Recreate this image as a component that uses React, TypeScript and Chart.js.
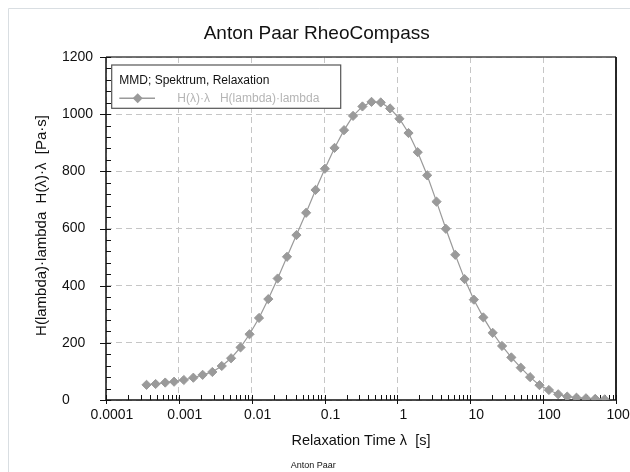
import React, { useEffect, useRef } from 'react';
import { Chart, registerables } from 'chart.js';

Chart.register(...registerables);

// Relaxation time λ [s]
const RELAXATION_TIMES = [
  3.6e-4, 4.8e-4, 6.5e-4, 8.6e-4, 1.17e-3, 1.58e-3, 2.12e-3, 2.88e-3, 3.88e-3, 5.21e-3,
  7.02e-3, 9.33e-3, 0.0126, 0.0169, 0.0227, 0.0305, 0.0411, 0.0558, 0.0752, 0.101,
  0.137, 0.185, 0.246, 0.331, 0.441, 0.59, 0.793, 1.066, 1.42, 1.9,
  2.56, 3.44, 4.62, 6.22, 8.36, 11.2, 15.1, 20.3, 27.3, 36.6,
  49.3, 66.2, 89.1, 120, 161, 214, 287, 387, 519, 698,
];
// H(λ)·λ [Pa·s]
const H_LAMBDA = [
  53, 56, 61, 64, 70, 78, 88, 98, 119, 146,
  184, 230, 287, 353, 425, 501, 577, 655, 735, 809,
  882, 944, 994, 1027, 1043, 1041, 1020, 984, 934, 867,
  786, 694, 599, 508, 423, 351, 289, 235, 189, 149,
  113, 80, 52, 35, 20, 12, 8, 6, 4, 2,
];

const X_TICKS = [0.0001, 0.001, 0.01, 0.1, 1, 10, 100, 1000];
const X_TICK_LABELS = ['0.0001', '0.001', '0.01', '0.1', '1', '10', '100', '1000'];
const X_MINOR_MULTS = [2, 3, 4, 5, 6, 7, 8, 9];
const Y_TICKS = [0, 200, 400, 600, 800, 1000, 1200];
const Y_TICK_LABELS = ['0', '200', '400', '600', '800', '1000', '1200'];
const Y_MINOR_STEP = 40;

const TITLE = 'Anton Paar RheoCompass';
const X_TITLE = 'Relaxation Time λ  [s]';
const Y_TITLE = 'H(lambda)·lambda  H(λ)·λ  [Pa·s]';
const LEGEND_TITLE = 'MMD; Spektrum, Relaxation';
const SERIES_LABEL = 'H(λ)·λ   H(lambda)·lambda';
const FOOTER = 'Anton Paar';

const FONT = "'Liberation Sans', Arial, sans-serif";
const SERIES_COLOR = '#9a9a9a';

const W = 622;
const H = 464;

const decor = {
  id: 'decor',
  beforeDraw(chart: any) {
    const ctx = chart.ctx;
    ctx.save();
    ctx.fillStyle = '#ffffff';
    ctx.fillRect(0, 0, chart.width, chart.height);
    ctx.strokeStyle = '#d9dee2';
    ctx.lineWidth = 1;
    ctx.beginPath();
    ctx.moveTo(0.5, chart.height);
    ctx.lineTo(0.5, 0.5);
    ctx.lineTo(chart.width, 0.5);
    ctx.stroke();
    ctx.restore();
  },
  beforeDatasetsDraw(chart: any) {
    const ctx = chart.ctx;
    const { left, right, top, bottom } = chart.chartArea;
    const xs = chart.scales.x;
    const ys = chart.scales.y;
    ctx.save();
    // frame / axes
    ctx.lineWidth = 1.5;
    ctx.strokeStyle = '#444444';
    ctx.beginPath();
    ctx.moveTo(left, top);
    ctx.lineTo(right, top);
    ctx.stroke();
    ctx.strokeStyle = '#111111';
    ctx.lineWidth = 1.8;
    ctx.beginPath();
    ctx.moveTo(right, top);
    ctx.lineTo(right, bottom);
    ctx.stroke();
    ctx.lineWidth = 1.5;
    ctx.beginPath();
    ctx.moveTo(left, top);
    ctx.lineTo(left, bottom);
    ctx.lineTo(right, bottom);
    ctx.stroke();
    // ticks
    ctx.lineWidth = 1;
    ctx.strokeStyle = '#111111';
    ctx.beginPath();
    const xMax = X_TICKS[X_TICKS.length - 1];
    X_TICKS.forEach((d) => {
      const px = Math.round(xs.getPixelForValue(d)) + 0.5;
      ctx.moveTo(px, bottom - 5);
      ctx.lineTo(px, bottom + 4);
      if (d < xMax) {
        X_MINOR_MULTS.forEach((m) => {
          const p = Math.round(xs.getPixelForValue(d * m)) + 0.5;
          ctx.moveTo(p, bottom - 5);
          ctx.lineTo(p, bottom);
        });
      }
    });
    const yMax = Y_TICKS[Y_TICKS.length - 1];
    for (let v = 0; v <= yMax; v += Y_MINOR_STEP) {
      const py = Math.round(ys.getPixelForValue(v)) + 0.5;
      if (Y_TICKS.includes(v)) {
        ctx.moveTo(left - 6, py);
        ctx.lineTo(left + 5, py);
      } else {
        ctx.moveTo(left, py);
        ctx.lineTo(left + 5, py);
      }
    }
    ctx.stroke();
    ctx.restore();
  },
  afterDraw(chart: any) {
    const ctx = chart.ctx;
    const { left, right, top, bottom } = chart.chartArea;
    ctx.save();
    // title
    ctx.fillStyle = '#111111';
    ctx.textBaseline = 'alphabetic';
    ctx.textAlign = 'center';
    ctx.font = `19px ${FONT}`;
    ctx.fillText(TITLE, 308.7, 30.6);
    // x title
    ctx.font = `14.5px ${FONT}`;
    ctx.fillText(X_TITLE, (left + right) / 2, 437);
    // y title
    ctx.save();
    ctx.translate(38, (top + bottom) / 2 - 3);
    ctx.rotate(-Math.PI / 2);
    ctx.font = `15px ${FONT}`;
    ctx.fillText(Y_TITLE, 0, 0);
    ctx.restore();
    // footer
    ctx.textAlign = 'left';
    ctx.font = `9px ${FONT}`;
    ctx.fillText(FOOTER, 282.7, 459.7);
    // legend
    const lx = left + 5.7;
    const ly = top + 8;
    const lw = 229;
    const lh = 43.3;
    ctx.fillStyle = '#ffffff';
    ctx.fillRect(lx, ly, lw, lh);
    ctx.strokeStyle = '#555555';
    ctx.lineWidth = 1.2;
    ctx.strokeRect(lx, ly, lw, lh);
    ctx.fillStyle = '#111111';
    ctx.font = `12px ${FONT}`;
    ctx.fillText(LEGEND_TITLE, lx + 7.6, ly + 19.3);
    const rowY = ly + 33.3;
    ctx.strokeStyle = SERIES_COLOR;
    ctx.lineWidth = 1.5;
    ctx.beginPath();
    ctx.moveTo(lx + 7.6, rowY);
    ctx.lineTo(lx + 43.3, rowY);
    ctx.stroke();
    const cx = lx + 26;
    const r = 5;
    ctx.fillStyle = SERIES_COLOR;
    ctx.beginPath();
    ctx.moveTo(cx - r, rowY);
    ctx.lineTo(cx, rowY - r);
    ctx.lineTo(cx + r, rowY);
    ctx.lineTo(cx, rowY + r);
    ctx.closePath();
    ctx.fill();
    ctx.fillStyle = '#b5b5b5';
    ctx.font = `12px ${FONT}`;
    ctx.fillText(SERIES_LABEL, lx + 65.6, rowY + 4);
    ctx.restore();
  },
};

export default function App() {
  const ref = useRef<HTMLCanvasElement | null>(null);

  useEffect(() => {
    document.documentElement.style.overflow = 'hidden';
    document.body.style.overflow = 'hidden';
    const canvas = ref.current;
    if (!canvas) return;
    const points = RELAXATION_TIMES.map((x, i) => ({ x, y: H_LAMBDA[i] }));
    const chart = new Chart(canvas, {
      type: 'line',
      data: {
        datasets: [
          {
            label: SERIES_LABEL,
            data: points,
            borderColor: SERIES_COLOR,
            backgroundColor: SERIES_COLOR,
            borderWidth: 1.2,
            pointStyle: 'rectRot',
            pointRadius: 4.6,
            pointBorderWidth: 1,
            pointBackgroundColor: SERIES_COLOR,
            pointBorderColor: SERIES_COLOR,
            tension: 0,
            fill: false,
          },
        ],
      },
      options: {
        responsive: false,
        animation: false,
        devicePixelRatio: 1,
        layout: { padding: { left: 54, right: 14, top: 49, bottom: 0 } },
        plugins: {
          legend: { display: false },
          title: { display: false },
          tooltip: { enabled: false },
        },
        scales: {
          x: {
            type: 'logarithmic',
            min: X_TICKS[0],
            max: X_TICKS[X_TICKS.length - 1],
            afterBuildTicks: (scale: any) => {
              scale.ticks = X_TICKS.map((v) => ({ value: v, major: true }));
            },
            afterFit: (scale: any) => {
              scale.height = 72;
              scale.paddingLeft = 0;
              scale.paddingRight = 0;
            },
            grid: {
              display: true,
              drawTicks: false,
              color: '#c6c6c6',
              lineWidth: 1,
            },
            border: { display: false, dash: [6, 4] },
            ticks: {
              autoSkip: false,
              maxRotation: 0,
              minRotation: 0,
              padding: 7,
              labelOffset: 6,
              color: '#111111',
              font: { family: FONT, size: 14 },
              callback: (_v: any, i: number) => X_TICK_LABELS[i],
            },
          },
          y: {
            type: 'linear',
            min: Y_TICKS[0],
            max: Y_TICKS[Y_TICKS.length - 1],
            afterBuildTicks: (scale: any) => {
              scale.ticks = Y_TICKS.map((v) => ({ value: v }));
            },
            afterFit: (scale: any) => {
              scale.width = 44;
              scale.paddingTop = 0;
              scale.paddingBottom = 0;
            },
            grid: {
              display: true,
              drawTicks: false,
              color: '#c6c6c6',
              lineWidth: 1,
            },
            border: { display: false, dash: [6, 4] },
            ticks: {
              crossAlign: 'far',
              padding: 8,
              color: '#111111',
              font: { family: FONT, size: 14 },
              callback: (_v: any, i: number) => Y_TICK_LABELS[i],
            },
          },
        },
      },
      plugins: [decor],
    });
    return () => chart.destroy();
  }, []);

  return (
    <div style={{ position: 'fixed', left: 8, top: 8, width: W, height: H }}>
      <canvas
        ref={ref}
        width={W}
        height={H}
        style={{ display: 'block', width: W, height: H }}
      />
    </div>
  );
}
